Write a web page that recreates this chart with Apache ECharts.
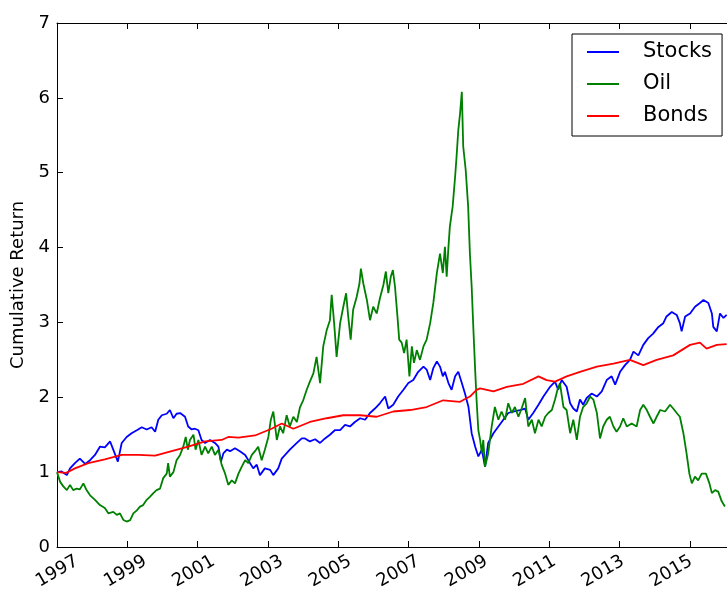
<!DOCTYPE html>
<html><head><meta charset="utf-8">
<script src="https://cdn.jsdelivr.net/npm/echarts@6/dist/echarts.min.js"></script>
<style>html,body{margin:0;padding:0;background:#fff}#c{width:727px;height:597px}</style>
</head><body><div id="c"></div>
<script>
const seriesNames = ['Stocks', 'Oil', 'Bonds'];
const seriesColors = ['#0000ff', '#008000', '#ff0000'];

const stocksX = [1997.00,1997.13,1997.28,1997.37,1997.51,1997.65,1997.80,1997.94,1998.08,1998.22,1998.36,1998.51,1998.60,1998.73,1998.84,1998.98,1999.12,1999.27,1999.41,1999.55,1999.69,1999.79,1999.88,1999.98,2000.12,2000.21,2000.31,2000.40,2000.50,2000.64,2000.73,2000.83,2000.92,2001.02,2001.11,2001.21,2001.35,2001.49,2001.59,2001.66,2001.73,2001.83,2001.92,2002.06,2002.20,2002.35,2002.49,2002.58,2002.68,2002.77,2002.91,2003.06,2003.15,2003.29,2003.39,2003.62,2003.82,2003.96,2004.05,2004.19,2004.34,2004.48,2004.62,2004.76,2004.90,2005.05,2005.19,2005.33,2005.47,2005.62,2005.76,2005.90,2006.04,2006.18,2006.33,2006.42,2006.56,2006.70,2006.85,2006.99,2007.13,2007.27,2007.42,2007.51,2007.61,2007.70,2007.80,2007.89,2007.97,2008.03,2008.13,2008.22,2008.32,2008.41,2008.51,2008.60,2008.70,2008.79,2008.89,2008.98,2009.08,2009.17,2009.26,2009.41,2009.55,2009.69,2009.83,2009.97,2010.16,2010.31,2010.40,2010.54,2010.69,2010.83,2011.02,2011.16,2011.25,2011.35,2011.49,2011.59,2011.68,2011.78,2011.87,2011.96,2012.06,2012.20,2012.35,2012.49,2012.63,2012.77,2012.87,2013.01,2013.15,2013.29,2013.39,2013.53,2013.67,2013.81,2013.95,2014.10,2014.24,2014.33,2014.48,2014.62,2014.71,2014.76,2014.86,2015.00,2015.14,2015.28,2015.38,2015.52,2015.62,2015.66,2015.76,2015.85,2015.95,2016.04];
const stocksY = [1.00,1.01,0.96,1.05,1.12,1.18,1.11,1.16,1.23,1.34,1.33,1.41,1.30,1.14,1.39,1.47,1.52,1.56,1.60,1.57,1.60,1.54,1.70,1.76,1.78,1.83,1.72,1.78,1.79,1.74,1.61,1.57,1.58,1.56,1.43,1.39,1.43,1.39,1.34,1.14,1.25,1.30,1.28,1.32,1.28,1.23,1.12,1.05,1.10,0.96,1.05,1.03,0.96,1.05,1.18,1.30,1.39,1.45,1.45,1.41,1.44,1.39,1.45,1.50,1.56,1.56,1.63,1.61,1.67,1.72,1.70,1.79,1.85,1.92,2.01,1.85,1.90,2.01,2.10,2.19,2.23,2.34,2.41,2.37,2.23,2.39,2.48,2.41,2.28,2.34,2.19,2.10,2.28,2.34,2.19,2.05,1.87,1.52,1.34,1.21,1.30,1.07,1.39,1.52,1.61,1.70,1.79,1.81,1.83,1.85,1.70,1.79,1.90,2.01,2.14,2.21,2.10,2.23,2.14,1.92,1.85,1.81,1.97,1.90,1.99,2.05,2.01,2.08,2.23,2.28,2.17,2.34,2.43,2.50,2.61,2.56,2.70,2.79,2.85,2.94,2.99,3.08,3.14,3.10,2.99,2.88,3.08,3.12,3.21,3.26,3.30,3.26,3.12,2.94,2.88,3.12,3.06,3.10];

const oilX = [1997.00,1997.09,1997.18,1997.28,1997.37,1997.46,1997.56,1997.65,1997.75,1997.84,1997.94,1998.08,1998.22,1998.36,1998.46,1998.60,1998.70,1998.79,1998.89,1998.98,1999.08,1999.17,1999.27,1999.36,1999.45,1999.55,1999.64,1999.74,1999.83,1999.93,2000.02,2000.12,2000.16,2000.21,2000.31,2000.40,2000.50,2000.59,2000.66,2000.72,2000.78,2000.88,2000.94,2001.02,2001.11,2001.21,2001.30,2001.40,2001.49,2001.59,2001.68,2001.78,2001.87,2001.97,2002.06,2002.16,2002.25,2002.35,2002.44,2002.54,2002.63,2002.72,2002.82,2002.91,2003.01,2003.08,2003.15,2003.25,2003.34,2003.43,2003.53,2003.62,2003.72,2003.82,2003.91,2004.00,2004.10,2004.19,2004.29,2004.38,2004.48,2004.57,2004.67,2004.76,2004.81,2004.88,2004.95,2005.05,2005.14,2005.22,2005.28,2005.35,2005.42,2005.52,2005.60,2005.64,2005.71,2005.81,2005.90,2005.99,2006.09,2006.18,2006.28,2006.35,2006.42,2006.49,2006.55,2006.61,2006.68,2006.73,2006.80,2006.87,2006.94,2007.02,2007.09,2007.15,2007.23,2007.32,2007.42,2007.51,2007.61,2007.70,2007.80,2007.89,2007.97,2008.03,2008.08,2008.13,2008.17,2008.25,2008.32,2008.36,2008.41,2008.46,2008.51,2008.55,2008.62,2008.69,2008.74,2008.79,2008.84,2008.89,2008.93,2008.98,2009.03,2009.08,2009.12,2009.17,2009.26,2009.36,2009.45,2009.55,2009.64,2009.74,2009.83,2009.93,2010.02,2010.12,2010.21,2010.31,2010.40,2010.50,2010.59,2010.69,2010.78,2010.88,2010.97,2011.07,2011.16,2011.23,2011.30,2011.40,2011.49,2011.59,2011.68,2011.78,2011.87,2011.96,2012.06,2012.16,2012.25,2012.35,2012.44,2012.53,2012.63,2012.72,2012.82,2012.91,2013.01,2013.10,2013.20,2013.34,2013.48,2013.58,2013.67,2013.77,2013.86,2013.96,2014.05,2014.15,2014.29,2014.43,2014.52,2014.62,2014.71,2014.81,2014.90,2014.98,2015.05,2015.14,2015.23,2015.33,2015.45,2015.55,2015.62,2015.71,2015.80,2015.90,2015.99];
const oilY = [1.00,0.87,0.81,0.76,0.83,0.76,0.78,0.77,0.85,0.76,0.69,0.63,0.56,0.52,0.45,0.47,0.43,0.45,0.36,0.34,0.36,0.45,0.49,0.54,0.56,0.63,0.67,0.72,0.76,0.78,0.92,0.98,1.12,0.94,1.00,1.16,1.23,1.34,1.47,1.30,1.43,1.50,1.30,1.43,1.23,1.34,1.25,1.34,1.23,1.30,1.10,0.98,0.83,0.89,0.85,0.98,1.07,1.16,1.12,1.23,1.28,1.34,1.16,1.30,1.47,1.70,1.81,1.43,1.61,1.52,1.76,1.61,1.74,1.67,1.87,1.96,2.10,2.21,2.32,2.54,2.19,2.68,2.90,3.03,3.37,2.99,2.54,2.99,3.21,3.39,3.08,2.77,3.17,3.34,3.52,3.72,3.52,3.30,3.03,3.21,3.12,3.32,3.50,3.68,3.39,3.61,3.70,3.48,3.08,2.77,2.73,2.59,2.77,2.28,2.68,2.46,2.63,2.50,2.68,2.77,2.99,3.26,3.66,3.92,3.66,4.01,3.61,4.01,4.28,4.55,4.95,5.21,5.57,5.79,6.08,5.35,5.04,4.55,3.92,3.48,2.90,2.36,1.96,1.56,1.43,1.25,1.43,1.07,1.25,1.61,1.87,1.70,1.81,1.70,1.92,1.79,1.87,1.74,1.85,1.99,1.61,1.70,1.52,1.70,1.61,1.74,1.79,1.83,1.97,2.10,2.19,1.87,1.83,1.52,1.70,1.43,1.74,1.87,1.92,2.01,1.97,1.79,1.45,1.61,1.70,1.74,1.61,1.54,1.61,1.72,1.61,1.65,1.61,1.83,1.90,1.83,1.74,1.65,1.74,1.83,1.81,1.90,1.85,1.79,1.74,1.52,1.25,0.98,0.85,0.94,0.89,0.98,0.98,0.85,0.72,0.76,0.74,0.61,0.54];

const bondsX = [1997.00,1997.26,1997.51,1997.89,1998.36,1998.84,1999.31,1999.79,2000.26,2000.73,2001.21,2001.68,2001.87,2002.16,2002.63,2003.10,2003.39,2003.72,2004.19,2004.67,2005.14,2005.62,2006.09,2006.56,2007.04,2007.51,2007.98,2008.46,2008.74,2008.93,2009.03,2009.41,2009.79,2010.26,2010.69,2010.92,2011.16,2011.49,2011.87,2012.35,2012.82,2013.29,2013.67,2014.05,2014.52,2015.00,2015.28,2015.47,2015.76,2016.04];
const bondsY = [1.00,0.99,1.05,1.12,1.17,1.23,1.23,1.22,1.28,1.34,1.41,1.43,1.47,1.46,1.49,1.58,1.65,1.58,1.67,1.72,1.76,1.76,1.74,1.81,1.83,1.87,1.96,1.94,2.01,2.10,2.12,2.08,2.14,2.18,2.28,2.23,2.21,2.28,2.34,2.41,2.45,2.50,2.43,2.50,2.56,2.70,2.73,2.65,2.70,2.71];

const yAxisLabel = 'Cumulative Return';
const xRange = [1997, 2016.05];
const yRange = [0, 7];
const yearStep = 2;

const pairs = (xs, ys) => xs.map((x, i) => [x, ys[i]]);
const font = 'DejaVu Sans';
const frame = { color: '#000', width: 1 };
// Plot grid, and a label-only grid of the same size nudged right so that the
// right-aligned rotated year labels end up centred under their ticks (matplotlib style).
const plotGrid = { left: 57, top: 23, width: 670, height: 524 };
const labelGrid = { left: 77, top: 23, width: 670, height: 524 };

const chart = echarts.init(document.getElementById('c'), null, { renderer: 'canvas' });
chart.setOption({
  animation: false,
  backgroundColor: '#fff',
  grid: [plotGrid, labelGrid],
  legend: {
    orient: 'vertical', left: 572, top: 34,
    padding: [6, 10, 8, 15], itemGap: 8,
    itemWidth: 32, itemHeight: 2, icon: 'rect',
    borderColor: '#000', borderWidth: 1, backgroundColor: '#fff',
    textStyle: { fontFamily: font, fontSize: 21, color: '#000', lineHeight: 24, padding: [0, 0, 0, 19] },
    data: seriesNames
  },
  xAxis: [
    { gridIndex: 0, type: 'value', min: xRange[0], max: xRange[1], interval: yearStep, position: 'bottom',
      axisLine: { show: true, onZero: false, lineStyle: frame },
      axisTick: { show: true, inside: true, length: 6, lineStyle: frame },
      axisLabel: { show: false }, splitLine: { show: false } },
    { gridIndex: 0, type: 'value', min: xRange[0], max: xRange[1], interval: yearStep, position: 'top',
      axisLine: { show: true, onZero: false, lineStyle: frame },
      axisTick: { show: true, inside: true, length: 6, lineStyle: frame },
      axisLabel: { show: false }, splitLine: { show: false } },
    { gridIndex: 1, type: 'value', min: xRange[0], max: xRange[1], interval: yearStep, position: 'bottom',
      axisLine: { show: false }, axisTick: { show: false }, splitLine: { show: false },
      axisLabel: { rotate: 30, margin: 13, fontSize: 18, fontFamily: font, color: '#000',
        showMaxLabel: false, formatter: v => String(v) } }
  ],
  yAxis: [
    { gridIndex: 0, type: 'value', min: yRange[0], max: yRange[1], interval: 1,
      name: yAxisLabel, nameLocation: 'middle', nameGap: 30,
      nameTextStyle: { fontFamily: font, fontSize: 18, color: '#000' },
      axisLine: { show: true, onZero: false, lineStyle: frame },
      axisTick: { show: true, inside: true, length: 6, lineStyle: frame },
      axisLabel: { margin: 7, fontSize: 18, fontFamily: font, color: '#000' },
      splitLine: { show: false } },
    { gridIndex: 1, type: 'value', min: yRange[0], max: yRange[1], show: false }
  ],
  series: [
    { name: seriesNames[0], type: 'line', data: pairs(stocksX, stocksY) },
    { name: seriesNames[1], type: 'line', data: pairs(oilX, oilY) },
    { name: seriesNames[2], type: 'line', data: pairs(bondsX, bondsY) }
  ].map((s, i) => Object.assign(s, {
    xAxisIndex: 0, yAxisIndex: 0,
    showSymbol: false, symbol: 'none', color: seriesColors[i],
    lineStyle: { color: seriesColors[i], width: 1.8 }, itemStyle: { color: seriesColors[i] }
  }))
});
</script></body></html>
